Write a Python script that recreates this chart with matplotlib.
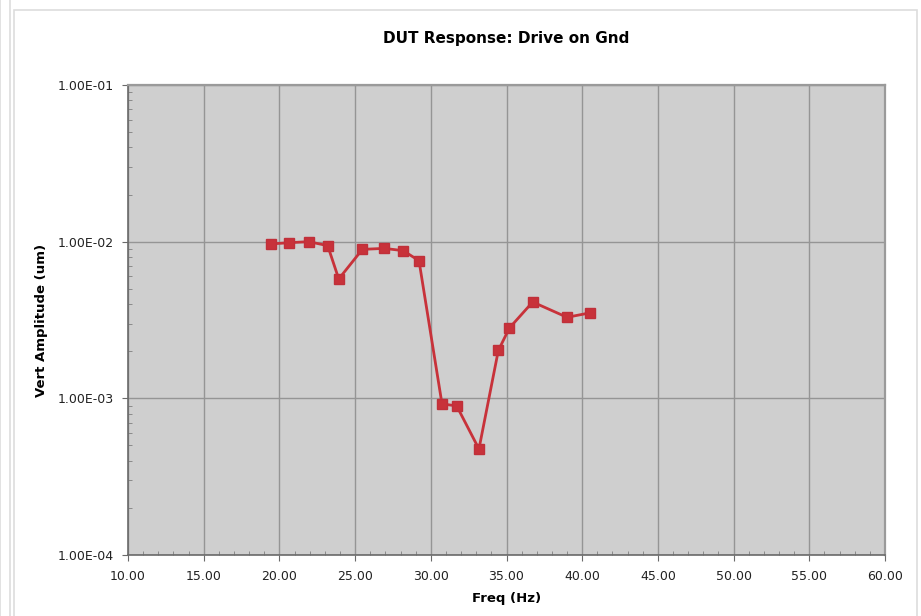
import matplotlib.pyplot as plt
from matplotlib.ticker import FuncFormatter, LogLocator, MultipleLocator
from matplotlib.patches import Rectangle

# DUT response, drive on ground
freq = [19.43, 20.65, 21.94, 23.19, 23.92, 25.48, 26.93, 28.18, 29.22,
        30.74, 31.71, 33.18, 34.46, 35.19, 36.73, 39.00, 40.50]
amp = [0.00967, 0.00985, 0.0100, 0.00943, 0.00578, 0.00893, 0.00906, 0.00876, 0.00756,
       0.000921, 0.000895, 0.000475, 0.00202, 0.00281, 0.00412, 0.00329, 0.00351]

x_ticks = [10, 15, 20, 25, 30, 35, 40, 45, 50, 55, 60]
y_ticks = [1e-4, 1e-3, 1e-2, 1e-1]

fig = plt.figure(figsize=(9.21, 6.16), dpi=100)
fig.patch.set_facecolor('white')
# chart frame
fig.patches.append(Rectangle((14/921, -0.01), 903/921, 1 - 10/616 + 0.01, transform=fig.transFigure,
                             fill=False, edgecolor='#dddddd', linewidth=1.2))
fig.patches.append(Rectangle((0, -0.01), 10/921, 1.02, transform=fig.transFigure,
                             fill=False, edgecolor='#dddddd', linewidth=1.2))

ax = fig.add_axes([128/921, 1 - 555/616, 757/921, 470/616])
ax.set_facecolor('#cfcfcf')
ax.plot(freq, amp, color='#c8323a', linewidth=2, marker='s', markersize=7,
        markeredgecolor='#c0303a', zorder=3)

ax.set_yscale('log')
ax.set_xlim(10, 60)
ax.set_ylim(1e-4, 1e-1)
ax.set_xticks(x_ticks)
ax.set_yticks(y_ticks)
ax.xaxis.set_minor_locator(MultipleLocator(1))
ax.yaxis.set_minor_locator(LogLocator(base=10, subs=range(2, 10)))
ax.yaxis.set_major_formatter(FuncFormatter(lambda v, p: '%.2E' % v))
ax.xaxis.set_major_formatter(FuncFormatter(lambda v, p: '%.2f' % v))
ax.yaxis.set_minor_formatter(FuncFormatter(lambda v, p: ''))

ax.grid(True, which='major', color='#959595', linewidth=1.0)
for s in ['top', 'right']:
    ax.spines[s].set_color('#9a9a9a')
    ax.spines[s].set_linewidth(1.6)
for s in ['left', 'bottom']:
    ax.spines[s].set_color('#6a6a6a')
    ax.spines[s].set_linewidth(1.2)

ax.tick_params(axis='both', which='major', labelsize=9, length=4, color='#6a6a6a',
               direction='out', pad=6, labelcolor='#222222')
ax.tick_params(axis='x', which='major', pad=7)
ax.tick_params(axis='both', which='minor', length=3, color='#808080', direction='in')

ax.set_title('DUT Response: Drive on Gnd', fontsize=11, fontweight='bold', pad=30)
ax.set_xlabel('Freq (Hz)', fontsize=9.5, fontweight='bold', labelpad=6)
ax.set_ylabel('Vert Amplitude (um)', fontsize=9.5, fontweight='bold', labelpad=7)

fig.savefig('out.png', dpi=100)
